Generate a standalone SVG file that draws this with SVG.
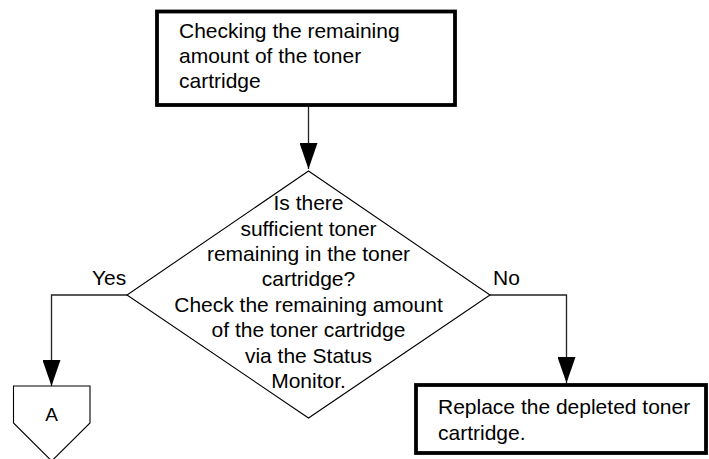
<svg xmlns="http://www.w3.org/2000/svg" width="709" height="459" viewBox="0 0 709 459">
  <style>
    .t { font-family: "Liberation Sans", Arial, sans-serif; font-size: 21px; fill: #000; }
    .c { text-anchor: middle; }
    .box { fill: #fff; stroke: #000; stroke-width: 3.8; }
    .shape { fill: #fff; stroke: #000; stroke-width: 1.1; }
    .conn { fill: none; stroke: #222; stroke-width: 1.3; }
  </style>
  <defs>
    <marker id="arrow" viewBox="0 0 26 18" refX="26" refY="9" markerWidth="26" markerHeight="18" markerUnits="userSpaceOnUse" orient="auto">
      <path d="M0,0 L26,9 L0,18 z" fill="#000"/>
    </marker>
  </defs>
  <rect width="709" height="459" fill="#fff"/>

  <g id="connectors">
    <path class="conn" d="M308.5,105 L308.5,169" marker-end="url(#arrow)"/>
    <path class="conn" d="M127,295 L51.5,295 L51.5,386" marker-end="url(#arrow)"/>
    <path class="conn" d="M490,295 L566.5,295 L566.5,383" marker-end="url(#arrow)"/>
  </g>

  <g id="check">
    <rect class="box" x="157" y="11.5" width="298" height="93.5"/>
    <text class="t" x="179" y="37.5">Checking the remaining</text>
    <text class="t" x="179" y="62.7">amount of the toner</text>
    <text class="t" x="179" y="88">cartridge</text>
  </g>

  <g id="decision">
    <polygon class="shape" points="308.5,171 490,295 308.5,418 127,295"/>
    <text class="t c" x="308.5" y="210">Is there</text>
    <text class="t c" x="308.5" y="235.5">sufficient toner</text>
    <text class="t c" x="308.5" y="261">remaining in the toner</text>
    <text class="t c" x="308.5" y="286">cartridge?</text>
    <text class="t c" x="308.5" y="312">Check the remaining amount</text>
    <text class="t c" x="308.5" y="337">of the toner cartridge</text>
    <text class="t c" x="308.5" y="363">via the Status</text>
    <text class="t c" x="308.5" y="388">Monitor.</text>
  </g>

  <g id="label-yes">
    <text class="t" x="92" y="285">Yes</text>
  </g>
  <g id="label-no">
    <text class="t" x="493" y="285">No</text>
  </g>

  <g id="connector-a">
    <polygon class="shape" points="13.5,386 90,386 90,423 51.7,461 13.5,423"/>
    <text class="t c" x="51.7" y="421" style="font-size:19px">A</text>
  </g>

  <g id="replace">
    <rect class="box" x="416" y="385" width="290" height="68"/>
    <text class="t" x="438" y="414">Replace the depleted toner</text>
    <text class="t" x="438" y="440">cartridge.</text>
  </g>
</svg>
